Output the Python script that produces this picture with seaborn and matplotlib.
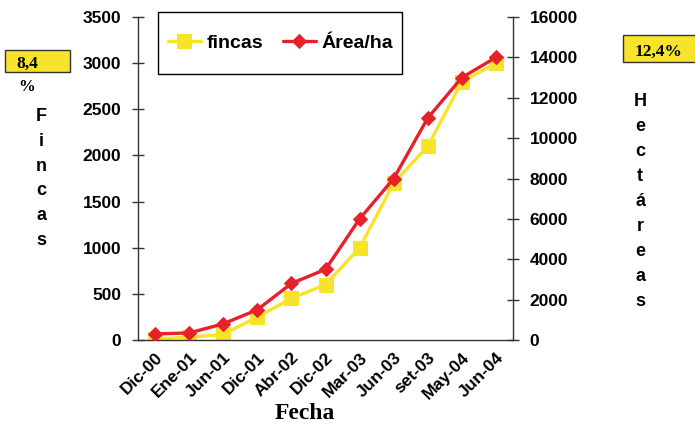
import matplotlib
matplotlib.use('Agg')
import matplotlib.pyplot as plt
import seaborn as sns
import pandas as pd
import numpy as np

fechas = ['Dic-00', 'Ene-01', 'Jun-01', 'Dic-01', 'Abr-02', 'Dic-02',
          'Mar-03', 'Jun-03', 'set-03', 'May-04', 'Jun-04']
fincas = [10, 30, 60, 250, 450, 600, 1000, 1700, 2100, 2800, 3000]
area_ha = [300, 350, 800, 1500, 2800, 3500, 6000, 8000, 11000, 13000, 14000]

YELLOW = '#F7E42A'
RED = '#E62129'

sns.set_style('white', {'text.color': 'black', 'xtick.color': 'black',
                        'ytick.color': 'black', 'axes.labelcolor': 'black'})
plt.rcParams['font.family'] = ['Liberation Sans', 'DejaVu Sans']
plt.rcParams['font.weight'] = 'bold'

df = pd.DataFrame({'Fecha': fechas, 'fincas': fincas, 'area': area_ha})
df['pos'] = np.arange(len(fechas))

fig = plt.figure(figsize=(6.95, 4.25), dpi=100)
ax = fig.add_axes([0.1986, 0.2, 0.5396, 0.76])
ax2 = ax.twinx()

sns.lineplot(data=df, x='pos', y='fincas', ax=ax, color=YELLOW, lw=2.4,
             marker='s', markersize=9.5, markeredgecolor=YELLOW, label='fincas', legend=False)
sns.lineplot(data=df, x='pos', y='area', ax=ax2, color=RED, lw=2.4,
             marker='D', markersize=7, markeredgecolor=RED, label='Área/ha', legend=False)

ax.set_xlim(-0.5, len(fechas) - 0.5)
ax.set_ylim(0, 3500)
ax2.set_ylim(0, 16000)
ax.set_yticks(range(0, 3501, 500))
ax2.set_yticks(range(0, 16001, 2000))

ax.set_xticks(df['pos'])
ax.set_xticklabels(fechas, rotation=45, ha='right', rotation_mode='anchor',
                   fontsize=12.5, fontweight='bold', color='black')
ax.set_xticks(np.arange(-0.5, len(fechas), 1), minor=True)
ax.tick_params(axis='x', which='major', length=0, pad=7)
ax.tick_params(axis='x', which='minor', length=8, direction='inout', width=1, color='#333333')
ax.tick_params(axis='y', length=8, direction='inout', width=1, labelsize=12.5, pad=8,
               color='#333333', labelcolor='black')
ax2.tick_params(axis='y', length=8, direction='inout', width=1, labelsize=12.5, pad=8,
                color='#333333', labelcolor='black')
for lab in ax.get_yticklabels() + ax2.get_yticklabels():
    lab.set_fontweight('bold')

for a in (ax, ax2):
    a.set_xlabel('')
    a.set_ylabel('')
    a.spines['top'].set_visible(False)
    for s in ('left', 'right', 'bottom'):
        a.spines[s].set_color('#333333')
        a.spines[s].set_linewidth(1)
ax.spines['right'].set_visible(False)
ax2.spines['left'].set_visible(False)
ax2.spines['bottom'].set_visible(False)

# legend box drawn by hand so its padding matches the original
h1, l1 = ax.get_legend_handles_labels()
h2, l2 = ax2.get_legend_handles_labels()
leg = ax2.legend(h1 + h2, l1 + l2, loc='center', bbox_to_anchor=(0.38, 0.92),
                 ncol=2, frameon=False, borderpad=0,
                 handlelength=1.7, columnspacing=1.0, handletextpad=0.3,
                 prop={'size': 14, 'weight': 'bold'})
ax2.add_patch(plt.Rectangle((0.053, 0.824), 0.651, 0.191, transform=ax2.transAxes,
                            fc='white', ec='black', lw=1, clip_on=False, zorder=4))
leg.set_zorder(5)

fig.text(0.439, 0.028, 'Fecha', ha='center', va='center', fontsize=17,
         family='Liberation Serif', weight='bold')

for i, ch in enumerate('Fincas'):
    fig.text(0.06, 0.725 - i * 0.058, ch, ha='center', va='center', fontsize=13, weight='bold')
for i, ch in enumerate('Hectáreas'):
    fig.text(0.921, 0.76 - i * 0.0588, ch, ha='center', va='center', fontsize=13, weight='bold')

fig.patches.append(plt.Rectangle((0.007, 0.831), 0.094, 0.051, transform=fig.transFigure,
                                 fc=YELLOW, ec='#333333', lw=1, zorder=0))
fig.text(0.039, 0.849, '8,4', ha='center', va='center', fontsize=12.5,
         family='Liberation Serif', weight='bold')
fig.text(0.038, 0.795, '%', ha='center', va='center', fontsize=12,
         family='Liberation Serif', weight='bold')
fig.patches.append(plt.Rectangle((0.896, 0.854), 0.11, 0.0635, transform=fig.transFigure,
                                 fc=YELLOW, ec='#333333', lw=1, zorder=0))
fig.text(0.948, 0.877, '12,4%', ha='center', va='center', fontsize=12.5,
         family='Liberation Serif', weight='bold')

fig.savefig('out.png', dpi=100)
